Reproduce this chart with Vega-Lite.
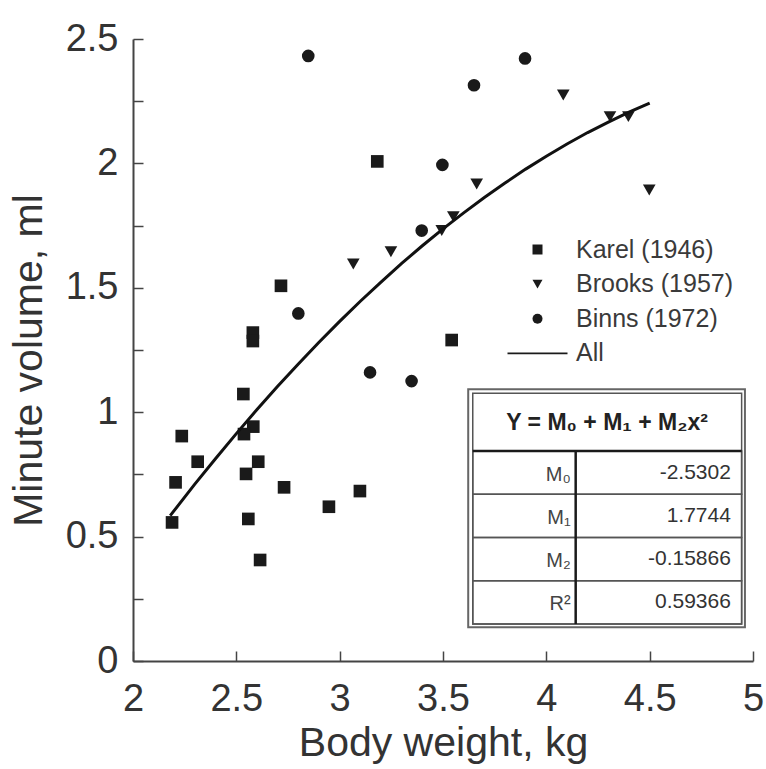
{
  "$schema": "https://vega.github.io/schema/vega-lite/v6.json",
  "width": 620,
  "height": 622,
  "autosize": {"type": "none"},
  "padding": {"left": 133, "top": 39, "right": 13, "bottom": 108},
  "background": "white",
  "config": {
    "font": "Liberation Sans",
    "view": {"stroke": null},
    "axis": {
      "domainColor": "#444",
      "domainWidth": 2,
      "tickColor": "#444",
      "tickWidth": 1.5,
      "tickSize": -10,
      "grid": false,
      "labelFont": "Liberation Sans",
      "labelFontSize": 38,
      "labelColor": "#333",
      "titleFont": "Liberation Sans",
      "titleFontSize": 41,
      "titleColor": "#333",
      "titleFontWeight": "normal",
      "labelOverlap": false,
      "labelFlush": false
    }
  },
  "datasets": {
    "obs": [
      {"series": "Karel (1946)", "bw": 2.58, "mv": 1.32},
      {"series": "Karel (1946)", "bw": 2.58, "mv": 1.286},
      {"series": "Karel (1946)", "bw": 3.542, "mv": 1.29},
      {"series": "Karel (1946)", "bw": 2.534, "mv": 1.073},
      {"series": "Karel (1946)", "bw": 2.236, "mv": 0.904},
      {"series": "Karel (1946)", "bw": 2.582, "mv": 0.942},
      {"series": "Karel (1946)", "bw": 2.537, "mv": 0.912},
      {"series": "Karel (1946)", "bw": 2.313, "mv": 0.801},
      {"series": "Karel (1946)", "bw": 2.606, "mv": 0.801},
      {"series": "Karel (1946)", "bw": 2.547, "mv": 0.752},
      {"series": "Karel (1946)", "bw": 2.206, "mv": 0.718},
      {"series": "Karel (1946)", "bw": 2.731, "mv": 0.698},
      {"series": "Karel (1946)", "bw": 3.098, "mv": 0.683},
      {"series": "Karel (1946)", "bw": 2.948, "mv": 0.62},
      {"series": "Karel (1946)", "bw": 2.189, "mv": 0.557},
      {"series": "Karel (1946)", "bw": 2.558, "mv": 0.571},
      {"series": "Karel (1946)", "bw": 2.615, "mv": 0.406},
      {"series": "Karel (1946)", "bw": 3.182, "mv": 2.008},
      {"series": "Karel (1946)", "bw": 2.716, "mv": 1.508},
      {"series": "Brooks (1957)", "bw": 3.066, "mv": 1.596},
      {"series": "Brooks (1957)", "bw": 3.248, "mv": 1.645},
      {"series": "Brooks (1957)", "bw": 3.494, "mv": 1.73},
      {"series": "Brooks (1957)", "bw": 3.55, "mv": 1.786},
      {"series": "Brooks (1957)", "bw": 3.663, "mv": 1.917},
      {"series": "Brooks (1957)", "bw": 4.082, "mv": 2.275},
      {"series": "Brooks (1957)", "bw": 4.308, "mv": 2.188},
      {"series": "Brooks (1957)", "bw": 4.397, "mv": 2.188},
      {"series": "Brooks (1957)", "bw": 4.498, "mv": 1.893},
      {"series": "Binns (1972)", "bw": 2.848, "mv": 2.432},
      {"series": "Binns (1972)", "bw": 3.897, "mv": 2.422},
      {"series": "Binns (1972)", "bw": 3.65, "mv": 2.314},
      {"series": "Binns (1972)", "bw": 3.497, "mv": 1.994},
      {"series": "Binns (1972)", "bw": 3.397, "mv": 1.73},
      {"series": "Binns (1972)", "bw": 2.8, "mv": 1.397},
      {"series": "Binns (1972)", "bw": 3.147, "mv": 1.16},
      {"series": "Binns (1972)", "bw": 3.348, "mv": 1.125}
    ],
    "fit": [
      {"bw": 2.18, "mv": 0.584}, {"bw": 2.3, "mv": 0.712}, {"bw": 2.4, "mv": 0.814},
      {"bw": 2.5, "mv": 0.914}, {"bw": 2.6, "mv": 1.011}, {"bw": 2.7, "mv": 1.104},
      {"bw": 2.8, "mv": 1.194}, {"bw": 2.9, "mv": 1.281}, {"bw": 3.0, "mv": 1.365},
      {"bw": 3.1, "mv": 1.446}, {"bw": 3.2, "mv": 1.523}, {"bw": 3.3, "mv": 1.598},
      {"bw": 3.4, "mv": 1.669}, {"bw": 3.5, "mv": 1.737}, {"bw": 3.6, "mv": 1.801},
      {"bw": 3.7, "mv": 1.863}, {"bw": 3.8, "mv": 1.921}, {"bw": 3.9, "mv": 1.977},
      {"bw": 4.0, "mv": 2.029}, {"bw": 4.1, "mv": 2.078}, {"bw": 4.2, "mv": 2.124},
      {"bw": 4.3, "mv": 2.166}, {"bw": 4.4, "mv": 2.206}, {"bw": 4.5, "mv": 2.242}
    ],
    "coef": [
      {"param": "M₀", "value": "-2.5302"},
      {"param": "M₁", "value": "1.7744"},
      {"param": "M₂", "value": "-0.15866"},
      {"param": "R²", "value": "0.59366"}
    ]
  },
  "resolve": {"scale": {"x": "independent", "y": "independent"}},
  "layer": [
    {
      "data": {"name": "obs"},
      "mark": {"type": "point", "filled": true, "size": 160, "color": "#1a1a1a", "opacity": 1},
      "encoding": {
        "x": {
          "field": "bw", "type": "quantitative",
          "scale": {"domain": [2, 5], "nice": false, "zero": false},
          "axis": {
            "title": "Body weight, kg",
            "values": [2, 2.5, 3, 3.5, 4, 4.5, 5],
            "format": "~g",
            "labelPadding": 29,
            "titlePadding": 5
          }
        },
        "y": {
          "field": "mv", "type": "quantitative",
          "scale": {"domain": [0, 2.5], "nice": false},
          "axis": {
            "title": "Minute volume, ml",
            "values": [0, 0.25, 0.5, 0.75, 1, 1.25, 1.5, 1.75, 2, 2.25, 2.5],
            "format": "~g",
            "labelExpr": "datum.value * 2 == round(datum.value * 2) ? datum.label : ''",
            "labelPadding": 25,
            "titlePadding": 15,
            "titleY": 321
          }
        },
        "shape": {
          "field": "series", "type": "nominal",
          "scale": {
            "domain": ["Karel (1946)", "Brooks (1957)", "Binns (1972)", "All"],
            "range": ["square", "triangle-down", "circle", "M-6,-0.18H6V0.18H-6Z"]
          },
          "legend": {
            "orient": "none",
            "legendX": 392,
            "legendY": 198,
            "title": null,
            "padding": 0,
            "labelFont": "Liberation Sans",
            "labelFontSize": 25,
            "labelColor": "#3a3a3a",
            "symbolSize": 100,
            "symbolFillColor": "#1a1a1a",
            "symbolStrokeWidth": 0,
            "symbolOpacity": 1,
            "labelOffset": 26,
            "rowPadding": 8.6
          }
        }
      }
    },
    {
      "data": {"name": "fit"},
      "mark": {"type": "line", "color": "#111", "strokeWidth": 3},
      "encoding": {
        "x": {"field": "bw", "type": "quantitative", "axis": null, "scale": {"domain": [2, 5], "nice": false, "zero": false}},
        "y": {"field": "mv", "type": "quantitative", "axis": null, "scale": {"domain": [0, 2.5], "nice": false}}
      }
    },
    {
      "data": {"values": [{}]},
      "mark": {"type": "rect", "fill": "white", "stroke": "#666", "strokeWidth": 2},
      "encoding": {
        "x": {"datum": 3.622, "type": "quantitative", "axis": null, "scale": {"domain": [2, 5], "nice": false, "zero": false}},
        "x2": {"datum": 4.961},
        "y": {"datum": 1.092, "type": "quantitative", "axis": null, "scale": {"domain": [0, 2.5], "nice": false}},
        "y2": {"datum": 0.1355}
      }
    },
    {
      "data": {"values": [{}]},
      "mark": {"type": "rect", "fill": null, "stroke": "#555", "strokeWidth": 1.5},
      "encoding": {
        "x": {"datum": 3.644, "type": "quantitative", "axis": null, "scale": {"domain": [2, 5], "nice": false, "zero": false}},
        "x2": {"datum": 4.945},
        "y": {"datum": 1.076, "type": "quantitative", "axis": null, "scale": {"domain": [0, 2.5], "nice": false}},
        "y2": {"datum": 0.1487}
      }
    },
    {
      "data": {"name": "coef"},
      "mark": {"type": "rect", "fill": null, "stroke": "#555", "strokeWidth": 1.5},
      "encoding": {
        "x": {"datum": 3.644, "type": "quantitative", "axis": null, "scale": {"domain": [2, 5], "nice": false, "zero": false}},
        "x2": {"datum": 4.945},
        "y": {
          "field": "param", "type": "nominal", "axis": null,
          "scale": {"domain": ["M₀", "M₁", "M₂", "R²"], "range": [412, 585], "paddingInner": 0, "paddingOuter": 0}
        }
      }
    },
    {
      "data": {"name": "coef"},
      "mark": {"type": "text", "align": "right", "baseline": "middle", "fontSize": 20, "color": "#444", "dy": 2},
      "encoding": {
        "x": {"datum": 4.118, "type": "quantitative", "axis": null, "scale": {"domain": [2, 5], "nice": false, "zero": false}},
        "y": {
          "field": "param", "type": "nominal", "axis": null,
          "scale": {"domain": ["M₀", "M₁", "M₂", "R²"], "range": [412, 585], "paddingInner": 0, "paddingOuter": 0}
        },
        "text": {"field": "param"}
      }
    },
    {
      "data": {"name": "coef"},
      "mark": {"type": "text", "align": "right", "baseline": "middle", "fontSize": 21, "color": "#333"},
      "encoding": {
        "x": {"datum": 4.893, "type": "quantitative", "axis": null, "scale": {"domain": [2, 5], "nice": false, "zero": false}},
        "y": {
          "field": "param", "type": "nominal", "axis": null,
          "scale": {"domain": ["M₀", "M₁", "M₂", "R²"], "range": [412, 585], "paddingInner": 0, "paddingOuter": 0}
        },
        "text": {"field": "value"}
      }
    },
    {
      "data": {"values": [{}]},
      "mark": {"type": "rule", "color": "#1a1a1a", "strokeWidth": 2.5},
      "encoding": {
        "x": {"datum": 3.644, "type": "quantitative", "axis": null, "scale": {"domain": [2, 5], "nice": false, "zero": false}},
        "x2": {"datum": 4.945},
        "y": {"datum": 0.844, "type": "quantitative", "axis": null, "scale": {"domain": [0, 2.5], "nice": false}}
      }
    },
    {
      "data": {"values": [{}]},
      "mark": {"type": "rule", "color": "#1a1a1a", "strokeWidth": 2.5},
      "encoding": {
        "x": {"datum": 4.142, "type": "quantitative", "axis": null, "scale": {"domain": [2, 5], "nice": false, "zero": false}},
        "y": {"datum": 0.844, "type": "quantitative", "axis": null, "scale": {"domain": [0, 2.5], "nice": false}},
        "y2": {"datum": 0.1487}
      }
    },
    {
      "data": {"values": [{}]},
      "mark": {"type": "text", "align": "center", "baseline": "middle", "fontSize": 23, "fontWeight": "bold", "color": "#222"},
      "encoding": {
        "x": {"datum": 4.294, "type": "quantitative", "axis": null, "scale": {"domain": [2, 5], "nice": false, "zero": false}},
        "y": {"datum": 0.957, "type": "quantitative", "axis": null, "scale": {"domain": [0, 2.5], "nice": false}},
        "text": {"value": "Y = M₀ + M₁ + M₂x²"}
      }
    }
  ]
}
